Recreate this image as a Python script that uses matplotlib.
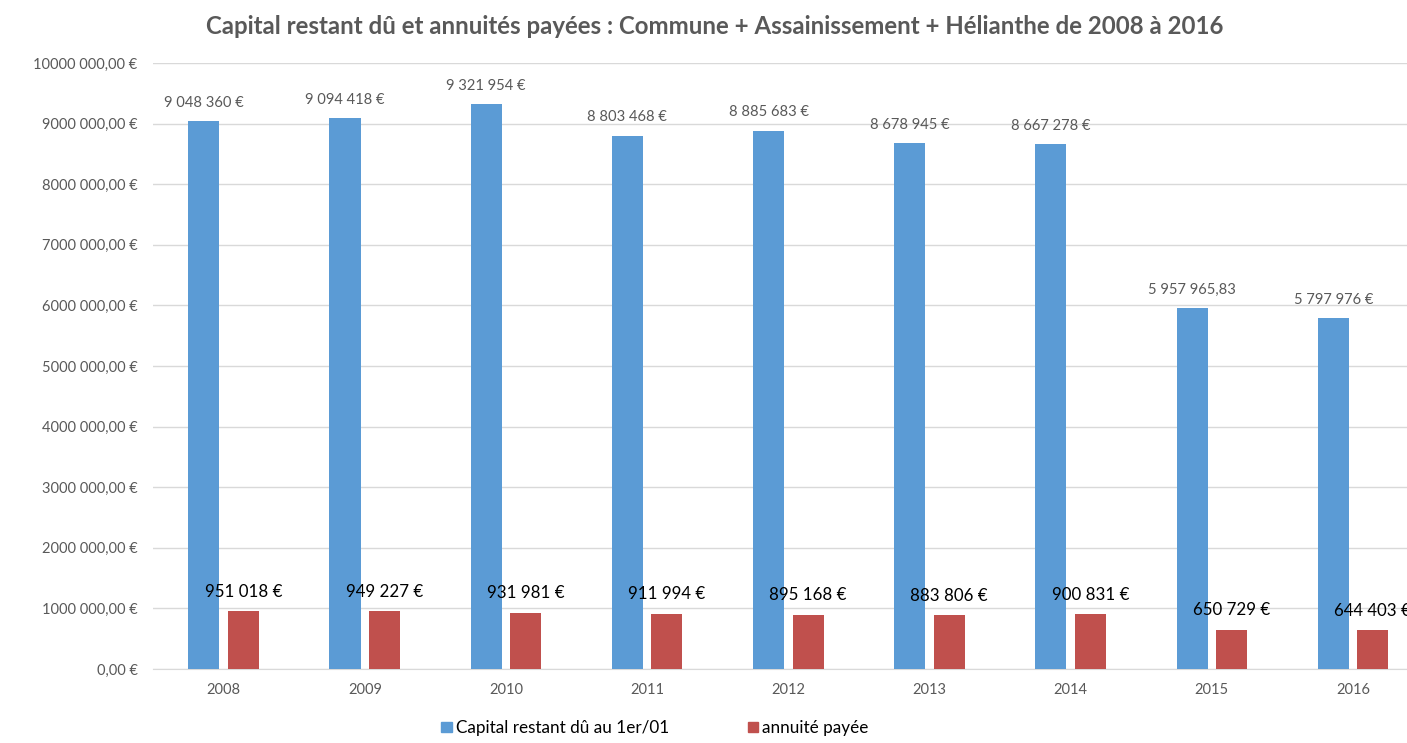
import numpy as np
import matplotlib.pyplot as plt
from matplotlib.ticker import FuncFormatter, MultipleLocator
from matplotlib.patches import Patch

years = ["2008", "2009", "2010", "2011", "2012", "2013", "2014", "2015", "2016"]
capital = [9048360, 9094418, 9321954, 8803468, 8885683, 8678945, 8667278, 5957965.83, 5797976]
annuite = [951018, 949227, 931981, 911994, 895168, 883806, 900831, 650729, 644403]
capital_labels = ["9 048 360 €", "9 094 418 €", "9 321 954 €", "8 803 468 €", "8 885 683 €",
                  "8 678 945 €", "8 667 278 €", "5 957 965,83", "5 797 976 €"]
annuite_labels = ["951 018 €", "949 227 €", "931 981 €", "911 994 €", "895 168 €",
                  "883 806 €", "900 831 €", "650 729 €", "644 403 €"]

BLUE = "#5B9BD5"
RED = "#C0504D"
GREY = "#595959"

plt.rcParams["font.family"] = ["Lato", "DejaVu Sans"]


def euro_fmt(v, pos):
    if v == 0:
        return "0,00 €"
    v = int(round(v))
    return f"{v // 1000} {v % 1000:03d},00 €"


fig = plt.figure(figsize=(14.07, 7.43), dpi=100)
ax = fig.add_axes([153 / 1407, 1 - 669 / 743, (1423.6 - 153) / 1407, (669 - 63) / 743])

x = np.arange(len(years))
w = 0.22
off = 0.14
ax.bar(x - off, capital, w, color=BLUE, zorder=3)
ax.bar(x + off, annuite, w, color=RED, zorder=3)

for xi, v, lab in zip(x, capital, capital_labels):
    ax.annotate(lab, (xi - off, v), xytext=(0, 13), textcoords="offset points",
                ha="center", va="center", fontsize=10.6, color=GREY)
for xi, v, lab in zip(x, annuite, annuite_labels):
    ax.annotate(lab, (xi + off, v), xytext=(0, 14), textcoords="offset points",
                ha="center", va="center", fontsize=12.2, color="black")

ax.set_xlim(-0.5, len(years) - 0.5)
ax.set_ylim(0, 10000000)
ax.yaxis.set_major_locator(MultipleLocator(1000000))
ax.yaxis.set_major_formatter(FuncFormatter(euro_fmt))
ax.set_xticks(x)
ax.set_xticklabels(years)
ax.grid(axis="y", color="#D9D9D9", linewidth=1, zorder=0)
for s in ["top", "right", "left"]:
    ax.spines[s].set_visible(False)
ax.spines["bottom"].set_color("#D9D9D9")
ax.tick_params(axis="both", length=0, colors=GREY, labelsize=10.5)
ax.tick_params(axis="y", pad=11)
ax.tick_params(axis="x", pad=10)

fig.text(715 / 1407, 1 - 27 / 743, "Capital restant dû et annuités payées : Commune + Assainissement + Hélianthe de 2008 à 2016",
         ha="center", va="center", fontsize=17.3, fontweight="bold", color=GREY)

handles = [Patch(color=BLUE, label="Capital restant dû au 1er/01"),
           Patch(color=RED, label="annuité payée")]
fig.legend(handles=handles, loc="center", bbox_to_anchor=(655 / 1407, 1 - 728 / 743), ncol=2,
           frameon=False, fontsize=12.3, handlelength=0.6, handleheight=0.6, handletextpad=0.25,
           columnspacing=4.6)

fig.savefig("out.png", dpi=100)
